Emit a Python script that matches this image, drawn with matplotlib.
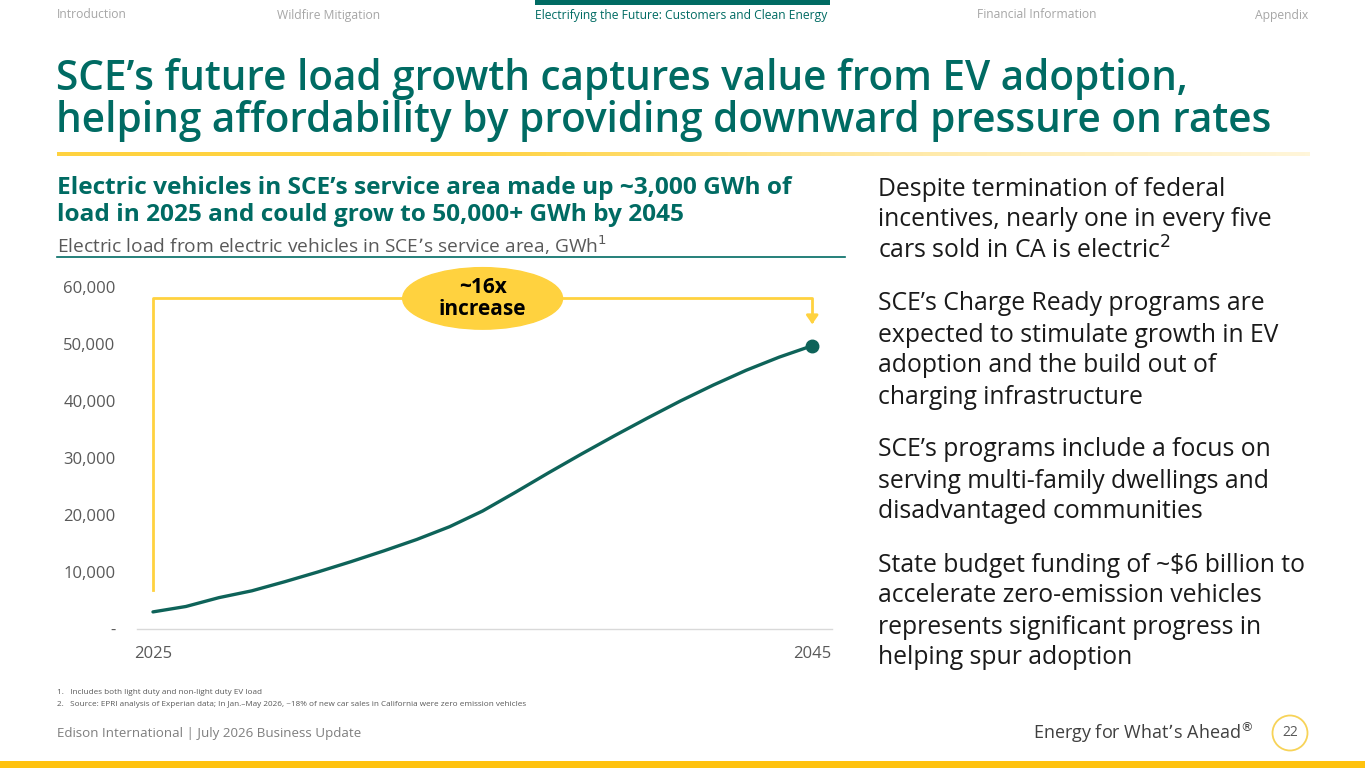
import matplotlib
matplotlib.use("Agg")
import matplotlib.pyplot as plt
import numpy as np
from matplotlib.patches import Ellipse, Circle, Rectangle
from matplotlib.ticker import FuncFormatter
from matplotlib.colors import LinearSegmentedColormap

plt.rcParams['font.family'] = ['Open Sans', 'DejaVu Sans']

# ---- data ----
years = [2025, 2026, 2027, 2028, 2029, 2030, 2031, 2032, 2033, 2034, 2035,
         2036, 2037, 2038, 2039, 2040, 2041, 2042, 2043, 2044, 2045]
ev_load_gwh = [3000, 3950, 5500, 6700, 8300, 10000, 11800, 13700, 15700, 17950, 20700,
               24000, 27400, 30700, 33900, 37000, 40000, 42800, 45400, 47700, 49700]
y_ticks = [0, 10000, 20000, 30000, 40000, 50000, 60000]
x_tick_years = [2025, 2045]
bracket_top = 58000
bracket_left_bottom = 6800
bracket_arrow_tip = 53000
callout_text = "~16x\nincrease"

nav_items = ["Introduction", "Wildfire Mitigation",
             "Electrifying the Future: Customers and Clean Energy",
             "Financial Information", "Appendix"]
title_lines = ["SCE\u2019s future load growth captures value from EV adoption,",
               "helping affordability by providing downward pressure on rates"]
subtitle_lines = ["Electric vehicles in SCE\u2019s service area made up ~3,000 GWh of",
                  "load in 2025 and could grow to 50,000+ GWh by 2045"]
chart_label = "Electric load from electric vehicles in SCE\u2019s service area, GWh$^{1}$"
bullets = [
    ["Despite termination of federal", "incentives, nearly one in every five",
     "cars sold in CA is electric$^{2}$"],
    ["SCE\u2019s Charge Ready programs are", "expected to stimulate growth in EV",
     "adoption and the build out of", "charging infrastructure"],
    ["SCE\u2019s programs include a focus on", "serving multi-family dwellings and",
     "disadvantaged communities"],
    ["State budget funding of ~$6 billion to", "accelerate zero-emission vehicles",
     "represents significant progress in", "helping spur adoption"],
]
footnotes = ["1.   Includes both light duty and non-light duty EV load",
             "2.   Source: EPRI analysis of Experian data; In Jan.\u2013May 2026, ~18% of new car sales in California were zero emission vehicles"]

TEAL = "#006B63"
LINE = "#0E6359"
YELLOW = "#FFD23F"
GRAY = "#595959"
LGRAY = "#A6A6A6"

W, H = 1365, 768
fig = plt.figure(figsize=(W / 100, H / 100), dpi=100)
fig.patch.set_facecolor("white")

def fx(px):
    return px / W

def fy(py):
    return 1 - py / H

# ---- nav bar ----
nav_x = [57, 277, 535, 977, 1255]
for i, (t, x) in enumerate(zip(nav_items, nav_x)):
    fig.text(fx(x), fy(15), t, fontsize=8.7, color=TEAL if i == 2 else LGRAY,
             va="center", ha="left")
fig.add_artist(Rectangle((fx(535), fy(5)), fx(830) - fx(535), 5 / H,
                         transform=fig.transFigure, color=TEAL, lw=0))

# ---- title ----
for i, t in enumerate(title_lines):
    fig.text(fx(56), fy(79 + 42 * i), t, fontsize=29.2, fontweight="semibold",
             color=TEAL, va="center", ha="left")

# gradient line under title
grad_ax = fig.add_axes([fx(57), fy(156), fx(1310) - fx(57), 4 / H])
grad = np.linspace(0, 1, 256)[None, :]
cmap = LinearSegmentedColormap.from_list("g", ["#FFD23F", "#FFD23F", "#FFE9A6", "#FFF6DA"])
grad_ax.imshow(grad, aspect="auto", cmap=cmap, extent=[0, 1, 0, 1])
grad_ax.axis("off")

# ---- subtitle ----
for i, t in enumerate(subtitle_lines):
    fig.text(fx(57), fy(188 + 27 * i), t, fontsize=17.6, fontweight="bold",
             color=TEAL, va="center", ha="left")
fig.text(fx(57), fy(245), chart_label, fontsize=13.8, color=GRAY,
         va="center", ha="left")
fig.add_artist(plt.Line2D([fx(57), fx(845)], [fy(257), fy(257)],
                          transform=fig.transFigure, color=TEAL, lw=1.2))

# ---- right bullets ----
y0 = 189
for para in bullets:
    for ln in para:
        fig.text(fx(878), fy(y0), ln, fontsize=17.8, color="#1a1a1a",
                 va="center", ha="left")
        y0 += 31
    y0 += 22

# ---- chart ----
ax = fig.add_axes([fx(136.5), fy(629), fx(832) - fx(136.5), (629 - 287) / H])
ax.set_xlim(2024.5, 2045.6)
ax.set_ylim(0, 60000)
ax.plot(years, ev_load_gwh, color=LINE, lw=2.4, solid_capstyle="round", zorder=4)
ax.plot([years[-1]], [ev_load_gwh[-1]], "o", color=LINE, ms=9, zorder=5)
for s in ["top", "right", "left"]:
    ax.spines[s].set_visible(False)
ax.spines["bottom"].set_color("#D9D9D9")
ax.spines["bottom"].set_linewidth(1)
ax.set_yticks(y_ticks)
ax.yaxis.set_major_formatter(FuncFormatter(lambda v, p: "-" if v == 0 else f"{int(v):,}"))
ax.set_xticks(x_tick_years)
ax.tick_params(axis="both", length=0, labelsize=12, labelcolor=GRAY)
ax.tick_params(axis="y", pad=15)
ax.tick_params(axis="x", pad=12)
ax.patch.set_alpha(0)

# bracket
ax.plot([years[0], years[0], years[-1], years[-1]],
        [bracket_left_bottom, bracket_top, bracket_top, bracket_arrow_tip + 1500],
        color=YELLOW, lw=2, clip_on=False, zorder=2)
ax.annotate("", xy=(years[-1], bracket_arrow_tip), xytext=(years[-1], bracket_arrow_tip + 1600),
            arrowprops=dict(arrowstyle="-|>,head_width=0.35,head_length=0.5",
                            color=YELLOW, lw=2), annotation_clip=False)
ell = Ellipse((2035.0, bracket_top), 4.85, 10800, color=YELLOW, clip_on=False, zorder=3)
ax.add_patch(ell)
ax.text(2035.0, bracket_top, callout_text, ha="center", va="center", fontsize=15,
        fontweight="bold", color="black", linespacing=1.05, zorder=6, clip_on=False)

# ---- footnotes ----
for i, t in enumerate(footnotes):
    fig.text(fx(57), fy(692 + 12 * i), t, fontsize=5.85, color=GRAY, va="center", ha="left")

# ---- footer ----
fig.text(fx(57), fy(733), "Edison International | July 2026 Business Update",
         fontsize=9.6, color="#7F7F7F", va="center", ha="left")
fig.text(fx(1254), fy(733), "Energy for What\u2019s Ahead$^{\u00ae}$", fontsize=13,
         color="#404040", va="center", ha="right")
circ_ax = fig.add_axes([0, 0, 1, 1], zorder=-1)
circ_ax.set_xlim(0, W)
circ_ax.set_ylim(H, 0)
circ_ax.axis("off")
circ_ax.add_patch(Circle((1290, 733), 17.5, fill=False, ec="#F7D358", lw=1.3))
circ_ax.text(1290, 733, "22", ha="center", va="center", fontsize=10, color="#595959")
circ_ax.add_patch(Rectangle((0, 761), W, 7, color="#FFC20E", lw=0))

fig.savefig("out.png", dpi=100)
